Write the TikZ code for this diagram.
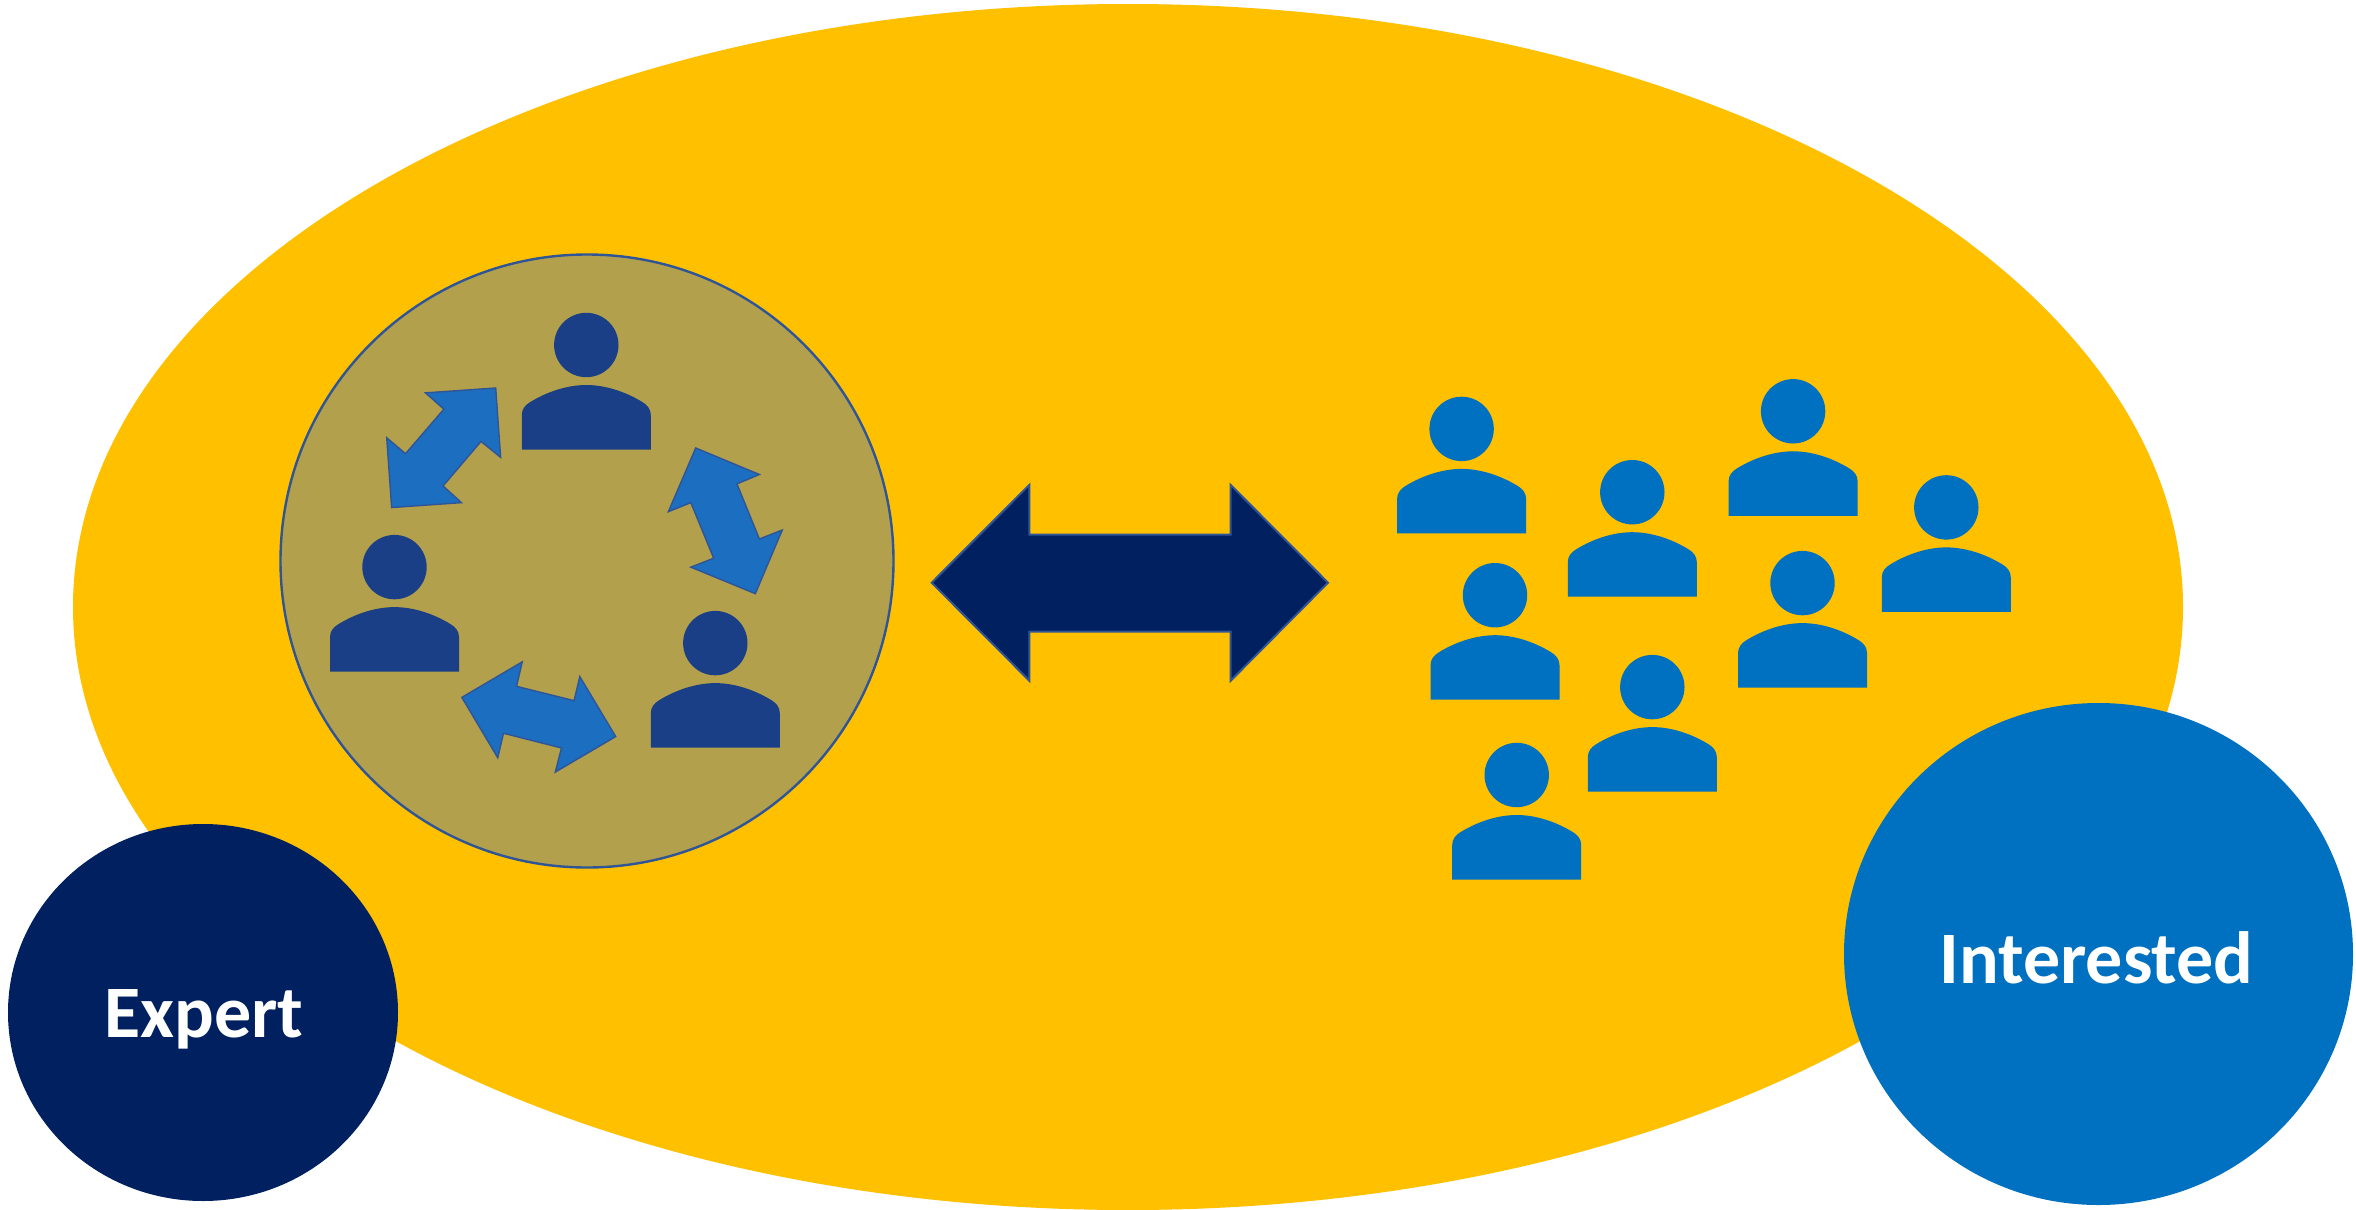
\documentclass[tikz,border=0pt]{standalone}
\usepackage{fontspec}
\setmainfont{Carlito}
\usetikzlibrary{shapes.geometric}
\definecolor{bigyellow}{HTML}{FFC000}
\definecolor{navyblue}{HTML}{002060}
\definecolor{midblue}{HTML}{0070C0}
\definecolor{darkperson}{HTML}{1A3F86}
\definecolor{olivefill}{HTML}{B2A04C}
\definecolor{outlineblue}{HTML}{2F5597}
\definecolor{swaparrow}{HTML}{1C6EC0}
\newcommand{\personicon}[3]{%
  \begin{scope}[shift={(#1,#2)}]
    \fill[#3] (0,0) circle [radius=32.2];
    \fill[#3] (-64.5,104.5) -- (-64.5,70)
      .. controls (-64.5,64) and (-61,60) .. (-56,57)
      .. controls (-38,46) and (-18,40) .. (0,40)
      .. controls (18,40) and (38,46) .. (56,57)
      .. controls (61,60) and (64.5,64) .. (64.5,70)
      -- (64.5,104.5) -- cycle;
  \end{scope}}
\tikzset{
  bigellipse/.style={ellipse,draw=none,inner sep=0pt,outer sep=0pt},
  roletext/.style={anchor=base,text=white,font=\fontsize{37}{37}\selectfont\bfseries,inner sep=0pt},
  swap/.style={fill=swaparrow,draw=outlineblue,line width=0.7pt,line join=miter},
}
\begin{document}
\begin{tikzpicture}[x=0.5pt,y=-0.5pt]
\useasboundingbox (0,0) rectangle (2356,1210);
\fill[white] (0,0) rectangle (2356,1210);
\node[bigellipse,fill=bigyellow,minimum width=1055pt,minimum height=603pt] (field) at (1128,607) {};
\node[circle,fill=olivefill,draw=outlineblue,line width=1.2pt,inner sep=0pt,minimum size=306.5pt] (group) at (587,561) {};
\node[bigellipse,fill=navyblue,minimum width=195pt,minimum height=188.5pt] (expert) at (203,1012.5) {};
\node[bigellipse,fill=midblue,minimum width=254.5pt,minimum height=251pt] (interested) at (2098.5,954) {};
\node[roletext] (expertlabel) at (204,1037) {Expert};
\node[roletext] (interestedlabel) at (2096.5,983.3) {Interested};
% big double arrow
\fill[navyblue,draw=outlineblue,line width=1pt,line join=miter]
  (931.7,582.7) -- (1029.3,485) -- (1029.3,534.7) -- (1230.7,534.7) -- (1230.7,485)
  -- (1328,582.7) -- (1230.7,680.7) -- (1230.7,631.7) -- (1029.3,631.7) -- (1029.3,680.7) -- cycle;
% dark people
\personicon{586.3}{345}{darkperson}
\personicon{394.5}{567.1}{darkperson}
\personicon{715.3}{643.1}{darkperson}
% swap arrows
\begin{scope}[shift={(270,250)},x=0.20408pt,y=-0.20408pt]
\draw[swap] (553,338) -- (565,508) -- (517,469) -- (424,578) -- (469,619) -- (298,631) -- (286,460) -- (332,499) -- (426,390) -- (381,350) -- cycle;
\draw[swap] (1043,485) -- (1199,550) -- (1144,573) -- (1199,708) -- (1255,686) -- (1189,842) -- (1031,777) -- (1087,755) -- (1031,619) -- (976,641) -- cycle;
\draw[swap] (470,1096) -- (618,1009) -- (604,1069) -- (745,1104) -- (759,1045) -- (847,1192) -- (699,1279) -- (714,1220) -- (572,1184) -- (558,1244) -- cycle;
\end{scope}
% interested people
\personicon{1461.6}{428.9}{midblue}
\personicon{1632.3}{492.2}{midblue}
\personicon{1793.1}{411.3}{midblue}
\personicon{1946.3}{507.4}{midblue}
\personicon{1495}{595.2}{midblue}
\personicon{1802.5}{583.1}{midblue}
\personicon{1652.3}{687.1}{midblue}
\personicon{1516.7}{775}{midblue}
\end{tikzpicture}
\end{document}
